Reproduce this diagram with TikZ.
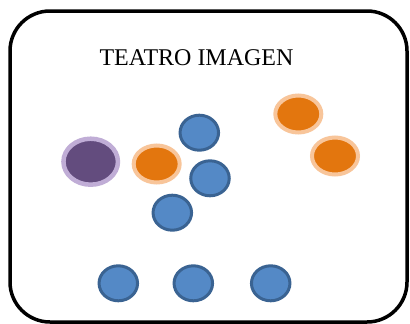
\documentclass[tikz,border=0pt]{standalone}
\usepackage{fontspec}
\setmainfont{Liberation Serif}
\usetikzlibrary{shapes.geometric}
\definecolor{bluefill}{HTML}{5489C6}
\definecolor{blueedge}{HTML}{3A6392}
\definecolor{orangefill}{HTML}{E3760E}
\definecolor{orangehalo}{HTML}{F8C59A}
\definecolor{purplefill}{HTML}{634C7E}
\definecolor{purplehalo}{HTML}{C0ADD6}
\tikzset{
  actor/.style={ellipse, inner sep=0pt, fill=bluefill, draw=blueedge,
    line width=3pt, minimum width=38.5pt, minimum height=35pt},
  spect/.style={ellipse, inner sep=0pt, fill=orangefill, draw=orangehalo,
    line width=4pt, minimum width=46pt, minimum height=37pt},
  joker/.style={ellipse, inner sep=0pt, fill=purplefill, draw=purplehalo,
    line width=4.5pt, minimum width=54.5pt, minimum height=46pt},
  frame/.style={draw=black, line width=3.5pt, rounded corners=40pt},
  title/.style={font=\fontsize{24}{28}\selectfont, inner sep=0pt}
}
\begin{document}
\begin{tikzpicture}[x=1pt, y=-1pt]
  \useasboundingbox (0,0) rectangle (410,324);
  \fill[white] (0,0) rectangle (410,324);
  % stage outline
  \draw[frame] (10,11) rectangle (407,322);
  \node[title, anchor=base] (t) at (196.5,65) {TEATRO IMAGEN};
  % joker and spectators
  \node[joker] (j) at (90.7,161.7) {};
  \node[spect] (s1) at (156.7,164) {};
  \node[spect] (s2) at (298.3,114) {};
  \node[spect] (s3) at (335,156) {};
  % actors
  \node[actor] (a1) at (199.3,132.7) {};
  \node[actor] (a2) at (210,178.3) {};
  \node[actor] (a3) at (172.3,212.7) {};
  \node[actor] (a4) at (118.3,283.3) {};
  \node[actor] (a5) at (193.3,283.3) {};
  \node[actor] (a6) at (270.7,283.3) {};
\end{tikzpicture}
\end{document}
